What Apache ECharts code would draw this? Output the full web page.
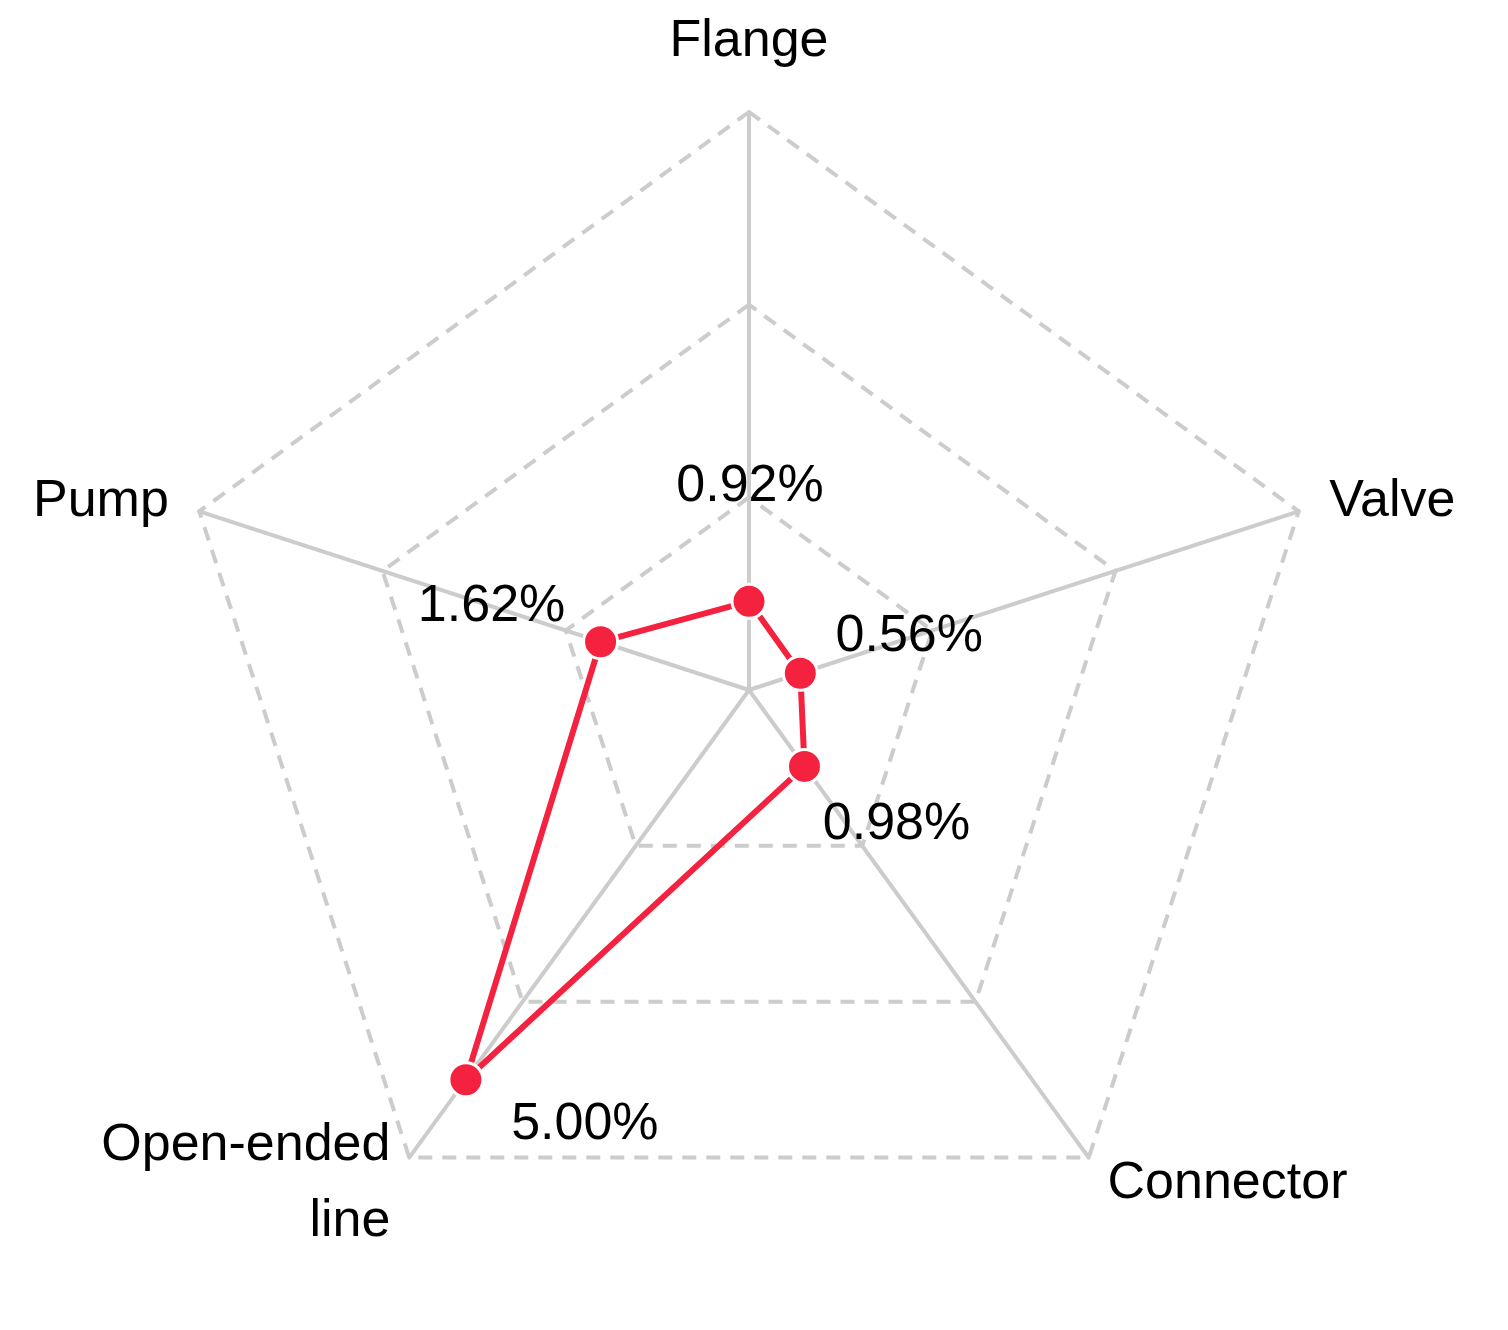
<!DOCTYPE html>
<html><head><meta charset="utf-8">
<script src="https://cdn.jsdelivr.net/npm/echarts@6/dist/echarts.min.js"></script>
<style>html,body{margin:0;background:#fff}#c{width:1508px;height:1330px}</style>
</head><body><div id="c"></div>
<script>
// indicators in ECharts order (counter-clockwise from top)
const categories = ['Flange', 'Pump', 'Open-ended\nline', 'Connector', 'Valve'];
const values = [0.92, 1.62, 5.00, 0.98, 0.56];
const maxValue = 6;
const labelOffsets = [[1, -115], [-109, -35], [119, 45], [92, 58], [109, -37]];

const chart = echarts.init(document.getElementById('c'));

// helper items only carry one label each
const labelItems = values.map((v, i) => ({
    value: values,
    symbol: 'circle',
    symbolSize: 2,
    lineStyle: { color: 'rgba(0,0,0,0)', width: 0 },
    itemStyle: { color: 'rgba(0,0,0,0)', borderWidth: 0 },
    label: {
        show: true,
        position: 'inside',
        offset: labelOffsets[i],
        fontSize: 52,
        color: '#000',
        fontFamily: 'Liberation Sans, Arial',
        formatter: p => {
            const x = Array.isArray(p.value) ? p.value[p.dimensionIndex] : p.value;
            return x === v ? v.toFixed(2) + '%' : '';
        }
    }
}));

chart.setOption({
    animation: false,
    radar: {
        center: ['749px', '690px'],
        radius: 578,
        shape: 'polygon',
        splitNumber: 3,
        nameGap: 32,
        indicator: categories.map(n => ({ name: n, min: 0, max: maxValue })),
        axisName: { color: '#000', fontSize: 52, lineHeight: 76, fontFamily: 'Liberation Sans, Arial' },
        axisLine: { lineStyle: { color: '#cccccc', width: 4 } },
        splitLine: { lineStyle: { color: '#cccccc', width: 4, type: [14, 10] } },
        splitArea: { show: false },
        axisTick: { show: false },
        axisLabel: { show: false }
    },
    series: [{
        type: 'radar',
        z: 2,
        data: [{
            value: values,
            symbol: 'circle',
            symbolSize: 34,
            lineStyle: { color: '#f5223f', width: 6 },
            itemStyle: { color: '#f5223f', borderColor: '#fff', borderWidth: 3 },
            label: { show: false }
        }].concat(labelItems)
    }]
});
</script></body></html>
